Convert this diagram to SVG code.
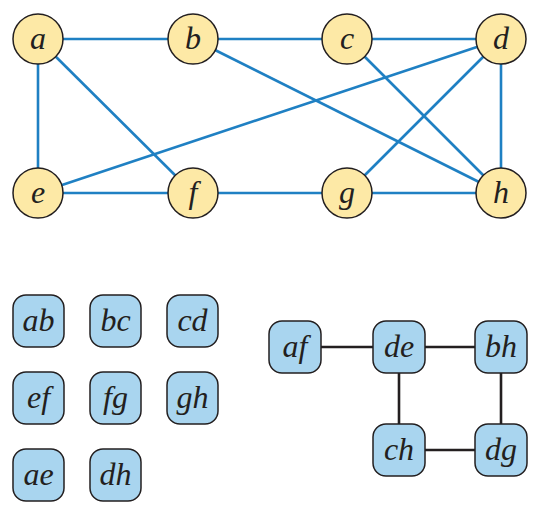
<svg xmlns="http://www.w3.org/2000/svg" width="540" height="514" viewBox="0 0 540 514">
<style>
.v circle{fill:#fde9a6;stroke:#231f20;stroke-width:1.5}
.s rect{fill:#a9d5ef;stroke:#231f20;stroke-width:1.5}
text{font-family:"Liberation Serif","Times New Roman",serif;font-style:italic;font-size:32px;fill:#231f20;text-anchor:middle}
.e line{stroke:#1f80c3;stroke-width:2.6}
.k line{stroke:#231f20;stroke-width:2.6}
</style>
<rect width="540" height="514" fill="#fff"/>
<g id="edges" class="e">
<line x1="38" y1="39" x2="193" y2="39"/>
<line x1="193" y1="39" x2="347" y2="39"/>
<line x1="347" y1="39" x2="501" y2="39"/>
<line x1="38" y1="39" x2="38" y2="193"/>
<line x1="38" y1="39" x2="193" y2="193"/>
<line x1="38" y1="193" x2="193" y2="193"/>
<line x1="193" y1="193" x2="347" y2="193"/>
<line x1="347" y1="193" x2="501" y2="193"/>
<line x1="501" y1="39" x2="501" y2="193"/>
<line x1="38" y1="193" x2="501" y2="39"/>
<line x1="193" y1="39" x2="501" y2="193"/>
<line x1="347" y1="39" x2="501" y2="193"/>
<line x1="347" y1="193" x2="501" y2="39"/>
</g>
<g id="a" class="v"><circle cx="38" cy="39" r="25"/><text x="38" y="49">a</text></g>
<g id="b" class="v"><circle cx="193" cy="39" r="25"/><text x="193" y="49">b</text></g>
<g id="c" class="v"><circle cx="347" cy="39" r="25"/><text x="347" y="49">c</text></g>
<g id="d" class="v"><circle cx="501" cy="39" r="25"/><text x="501" y="49">d</text></g>
<g id="e" class="v"><circle cx="38" cy="193" r="25"/><text x="38" y="203">e</text></g>
<g id="f" class="v"><circle cx="193" cy="193" r="25"/><text x="193" y="203">f</text></g>
<g id="g" class="v"><circle cx="347" cy="193" r="25"/><text x="347" y="203">g</text></g>
<g id="h" class="v"><circle cx="501" cy="193" r="25"/><text x="501" y="203">h</text></g>
<g id="links" class="k">
<line x1="295" y1="347" x2="399" y2="347"/>
<line x1="399" y1="347" x2="501" y2="347"/>
<line x1="399" y1="347" x2="399" y2="450"/>
<line x1="501" y1="347" x2="501" y2="450"/>
<line x1="399" y1="450" x2="501" y2="450"/>
</g>
<g id="ab" class="s"><rect x="13" y="295" width="51" height="52" rx="13"/><text x="38.5" y="331">ab</text></g>
<g id="bc" class="s"><rect x="90" y="295" width="51" height="52" rx="13"/><text x="115.5" y="331">bc</text></g>
<g id="cd" class="s"><rect x="167" y="295" width="51" height="52" rx="13"/><text x="192.5" y="331">cd</text></g>
<g id="ef" class="s"><rect x="13" y="372" width="51" height="52" rx="13"/><text x="38.5" y="408">ef</text></g>
<g id="fg" class="s"><rect x="90" y="372" width="51" height="52" rx="13"/><text x="115.5" y="408">fg</text></g>
<g id="gh" class="s"><rect x="167" y="372" width="51" height="52" rx="13"/><text x="192.5" y="408">gh</text></g>
<g id="ae" class="s"><rect x="13" y="449" width="51" height="52" rx="13"/><text x="38.5" y="485">ae</text></g>
<g id="dh" class="s"><rect x="90" y="449" width="51" height="52" rx="13"/><text x="115.5" y="485">dh</text></g>
<g id="af" class="s"><rect x="269" y="321" width="52" height="52" rx="13"/><text x="295" y="357">af</text></g>
<g id="de" class="s"><rect x="373" y="321" width="52" height="52" rx="13"/><text x="399" y="357">de</text></g>
<g id="bh" class="s"><rect x="475" y="321" width="52" height="52" rx="13"/><text x="501" y="357">bh</text></g>
<g id="ch" class="s"><rect x="373" y="424" width="52" height="52" rx="13"/><text x="399" y="460">ch</text></g>
<g id="dg" class="s"><rect x="475" y="424" width="52" height="52" rx="13"/><text x="501" y="460">dg</text></g>
</svg>
